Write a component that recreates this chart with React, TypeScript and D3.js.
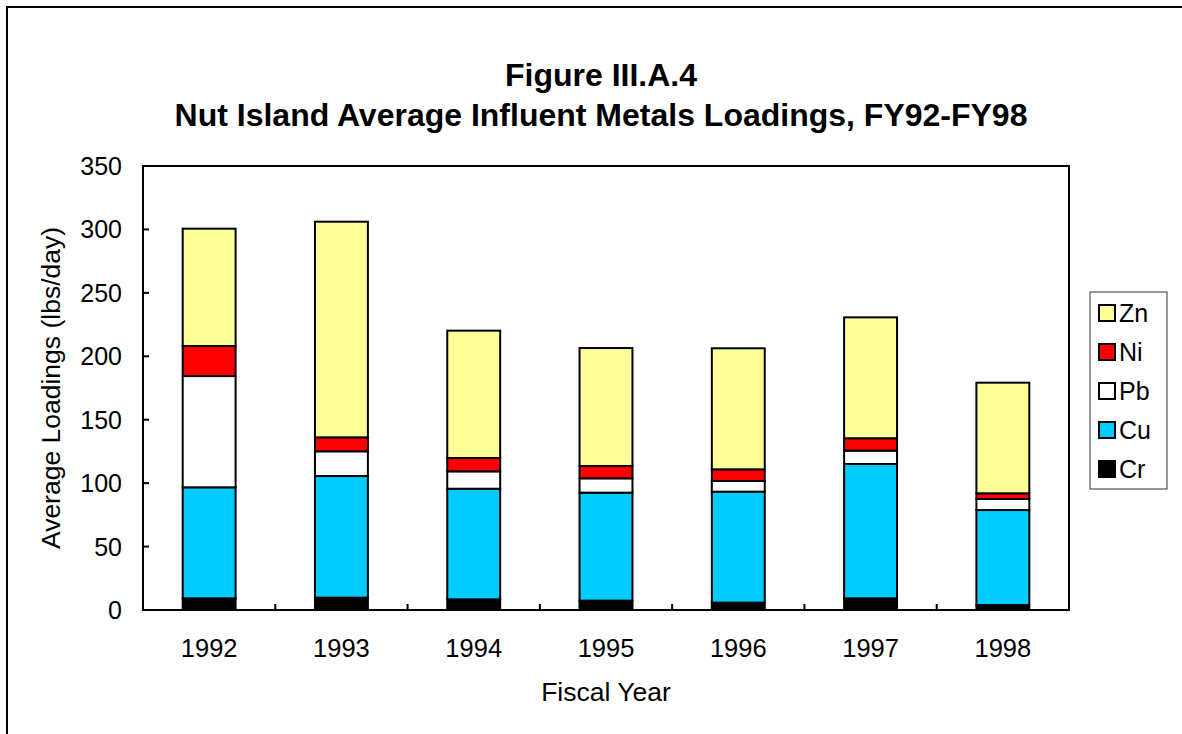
import React, { useEffect, useRef } from "react"
import * as d3 from "d3"

const years = ["1992", "1993", "1994", "1995", "1996", "1997", "1998"]
const metals = ["Cr", "Cu", "Pb", "Ni", "Zn"]
const cr = [9.2, 9.7, 8.4, 7.4, 5.8, 9.2, 3.9]
const cu = [87.5, 95.9, 87.2, 85.1, 87.5, 105.9, 74.9]
const pb = [87.7, 19.5, 13.7, 11.3, 8.4, 10.5, 8.7]
const ni = [23.7, 11, 10.5, 9.7, 9.2, 9.8, 4.5]
const zn = [92.5, 170, 100.4, 93, 95.4, 95.3, 87.2]
const yTicks = [0, 50, 100, 150, 200, 250, 300, 350]
const colors: Record<string, string> = {
	Cr: "#000000",
	Cu: "#00CCFF",
	Pb: "#FFFFFF",
	Ni: "#FF0000",
	Zn: "#FFFF99",
}

const W = 1182
const H = 734
const font = "'Liberation Sans', Arial, sans-serif"

const App: React.FC = () => {
	const ref = useRef<SVGSVGElement>(null)

	useEffect(() => {
		const svg = d3.select(ref.current)
		svg.selectAll("*").remove()

		const plot = { left: 143, top: 166, right: 1069, bottom: 610 }
		const series: Record<string, number[]> = { Cr: cr, Cu: cu, Pb: pb, Ni: ni, Zn: zn }
		const rows = years.map((y, i) => {
			const r: any = { year: y }
			metals.forEach((m) => (r[m] = series[m][i]))
			return r
		})

		const x = d3.scaleBand().domain(years).range([plot.left, plot.right]).paddingInner(0).paddingOuter(0)
		const y = d3.scaleLinear().domain([0, 350]).range([plot.bottom, plot.top])
		const barW = x.bandwidth() * 0.4

		// outer frame
		svg.append("rect")
			.attr("x", 7).attr("y", 7)
			.attr("width", W + 20).attr("height", H + 20)
			.attr("fill", "white").attr("stroke", "black").attr("stroke-width", 2)

		// title
		const title = svg.append("text")
			.attr("text-anchor", "middle")
			.attr("font-family", font).attr("font-weight", "bold").attr("font-size", 32)
		title.append("tspan").attr("x", 601).attr("y", 86).text("Figure III.A.4")
		title.append("tspan").attr("x", 601).attr("y", 126).text("Nut Island Average Influent Metals Loadings, FY92-FY98")

		// bars
		const stack = d3.stack<any>().keys(metals)(rows)
		svg.append("g").selectAll("g").data(stack).join("g")
			.attr("fill", (d) => colors[d.key])
			.selectAll("rect").data((d) => d).join("rect")
			.attr("x", (d) => (x(d.data.year) as number) + (x.bandwidth() - barW) / 2)
			.attr("width", barW)
			.attr("y", (d) => y(d[1]))
			.attr("height", (d) => y(d[0]) - y(d[1]))
			.attr("stroke", "black").attr("stroke-width", 2)

		// plot border
		svg.append("rect")
			.attr("x", plot.left).attr("y", plot.top)
			.attr("width", plot.right - plot.left).attr("height", plot.bottom - plot.top)
			.attr("fill", "none").attr("stroke", "black").attr("stroke-width", 2)

		// y ticks (inside)
		const yg = svg.append("g")
		yg.selectAll("line").data(yTicks).join("line")
			.attr("x1", plot.left).attr("x2", plot.left + 6)
			.attr("y1", (d) => y(d)).attr("y2", (d) => y(d))
			.attr("stroke", "black").attr("stroke-width", 2)
		yg.selectAll("text").data(yTicks).join("text")
			.attr("x", 122).attr("y", (d) => y(d))
			.attr("dy", "0.36em").attr("text-anchor", "end")
			.attr("font-family", font).attr("font-size", 25)
			.text((d) => d)

		// x ticks at category boundaries (inside)
		const bounds = years.slice(1).map((yr) => x(yr) as number)
		svg.append("g").selectAll("line").data(bounds).join("line")
			.attr("x1", (d) => d).attr("x2", (d) => d)
			.attr("y1", plot.bottom).attr("y2", plot.bottom - 6)
			.attr("stroke", "black").attr("stroke-width", 2)
		svg.append("g").selectAll("text").data(years).join("text")
			.attr("x", (d) => (x(d) as number) + x.bandwidth() / 2)
			.attr("y", 657).attr("text-anchor", "middle")
			.attr("font-family", font).attr("font-size", 25.5)
			.text((d) => d)

		// axis titles
		svg.append("text")
			.attr("x", 606).attr("y", 701).attr("text-anchor", "middle")
			.attr("font-family", font).attr("font-size", 26.5)
			.text("Fiscal Year")
		svg.append("text")
			.attr("transform", `translate(60, ${(plot.top + plot.bottom) / 2}) rotate(-90)`)
			.attr("text-anchor", "middle")
			.attr("font-family", font).attr("font-size", 26.5)
			.text("Average Loadings (lbs/day)")

		// legend
		const leg = svg.append("g")
		leg.append("rect")
			.attr("x", 1090).attr("y", 292).attr("width", 77).attr("height", 197)
			.attr("fill", "white").attr("stroke", "#333").attr("stroke-width", 1)
		const legendKeys = metals.slice().reverse()
		const ly = d3.scalePoint().domain(legendKeys).range([313, 469])
		const items = leg.selectAll("g").data(legendKeys).join("g")
			.attr("transform", (d) => `translate(0, ${ly(d)})`)
		items.append("rect")
			.attr("x", 1099).attr("y", -8).attr("width", 16).attr("height", 16)
			.attr("fill", (d) => colors[d]).attr("stroke", "black").attr("stroke-width", 2)
		items.append("text")
			.attr("x", 1119).attr("dy", "0.36em")
			.attr("font-family", font).attr("font-size", 25)
			.text((d) => d)
	}, [])

	return (
		<svg
			ref={ref}
			width={W}
			height={H}
			style={{ position: "absolute", left: 0, top: 0, background: "white" }}
		/>
	)
}

export default App
